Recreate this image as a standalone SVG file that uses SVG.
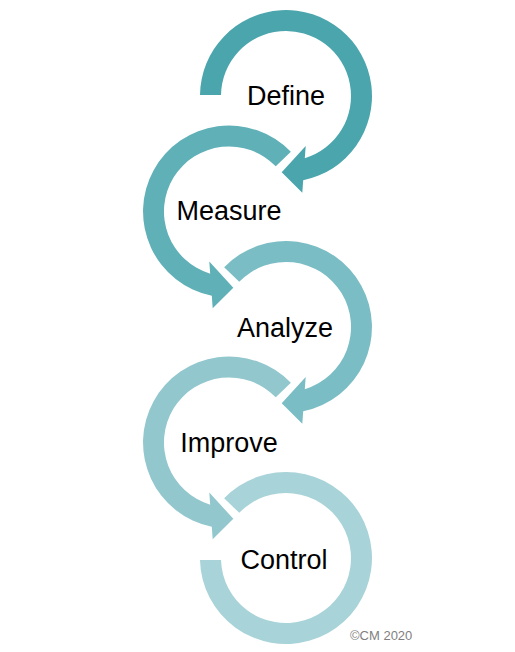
<svg xmlns="http://www.w3.org/2000/svg" width="515" height="652" viewBox="0 0 515 652">
  <style>
    .lbl { font-family: "Liberation Sans", Arial, sans-serif; font-size: 27px; fill: #000; text-anchor: middle; }
    .copy { font-family: "Liberation Sans", Arial, sans-serif; font-size: 13px; fill: #7f7f7f; }
  </style>
  <defs>
    <path id="arcR" d="M -61.86,-59.74 A 86 86 0 1 1 17.2,84.3 L 16.3,96.7 L -4.3,76.3 L 19.7,50 L 18.8,62.2 A 65 65 0 1 0 -46.76,-45.15 Z"/>
  </defs>
  <rect width="515" height="652" fill="#ffffff"/>

  <g id="define">
    <path transform="translate(286,96)" fill="#4ba5ad" d="M -86,-1 A 86 86 0 1 1 17.2,84.3 L 16.3,96.7 L -4.3,76.3 L 19.7,50 L 18.8,62.2 A 65 65 0 1 0 -65,-1 Z"/>
    <text class="lbl" x="286" y="105">Define</text>
  </g>

  <g id="measure">
    <use href="#arcR" transform="translate(229,211.5) scale(-1,1)" fill="#5fb0b7"/>
    <text class="lbl" x="229" y="220">Measure</text>
  </g>

  <g id="analyze">
    <use href="#arcR" transform="translate(286,327)" fill="#7bbdc4"/>
    <text class="lbl" x="285" y="337">Analyze</text>
  </g>

  <g id="improve">
    <use href="#arcR" transform="translate(229,442.5) scale(-1,1)" fill="#91c7cd"/>
    <text class="lbl" x="229" y="452">Improve</text>
  </g>

  <g id="control">
    <path transform="translate(286,558)" fill="#a8d3d8" d="M -86,2 A 86 86 0 1 0 -61.86,-59.74 L -46.76,-45.15 A 65 65 0 1 1 -65,2 Z"/>
    <text class="lbl" x="284" y="569">Control</text>
  </g>

  <g id="connectors"></g>

  <text class="copy" x="350" y="640">©CM 2020</text>
</svg>
